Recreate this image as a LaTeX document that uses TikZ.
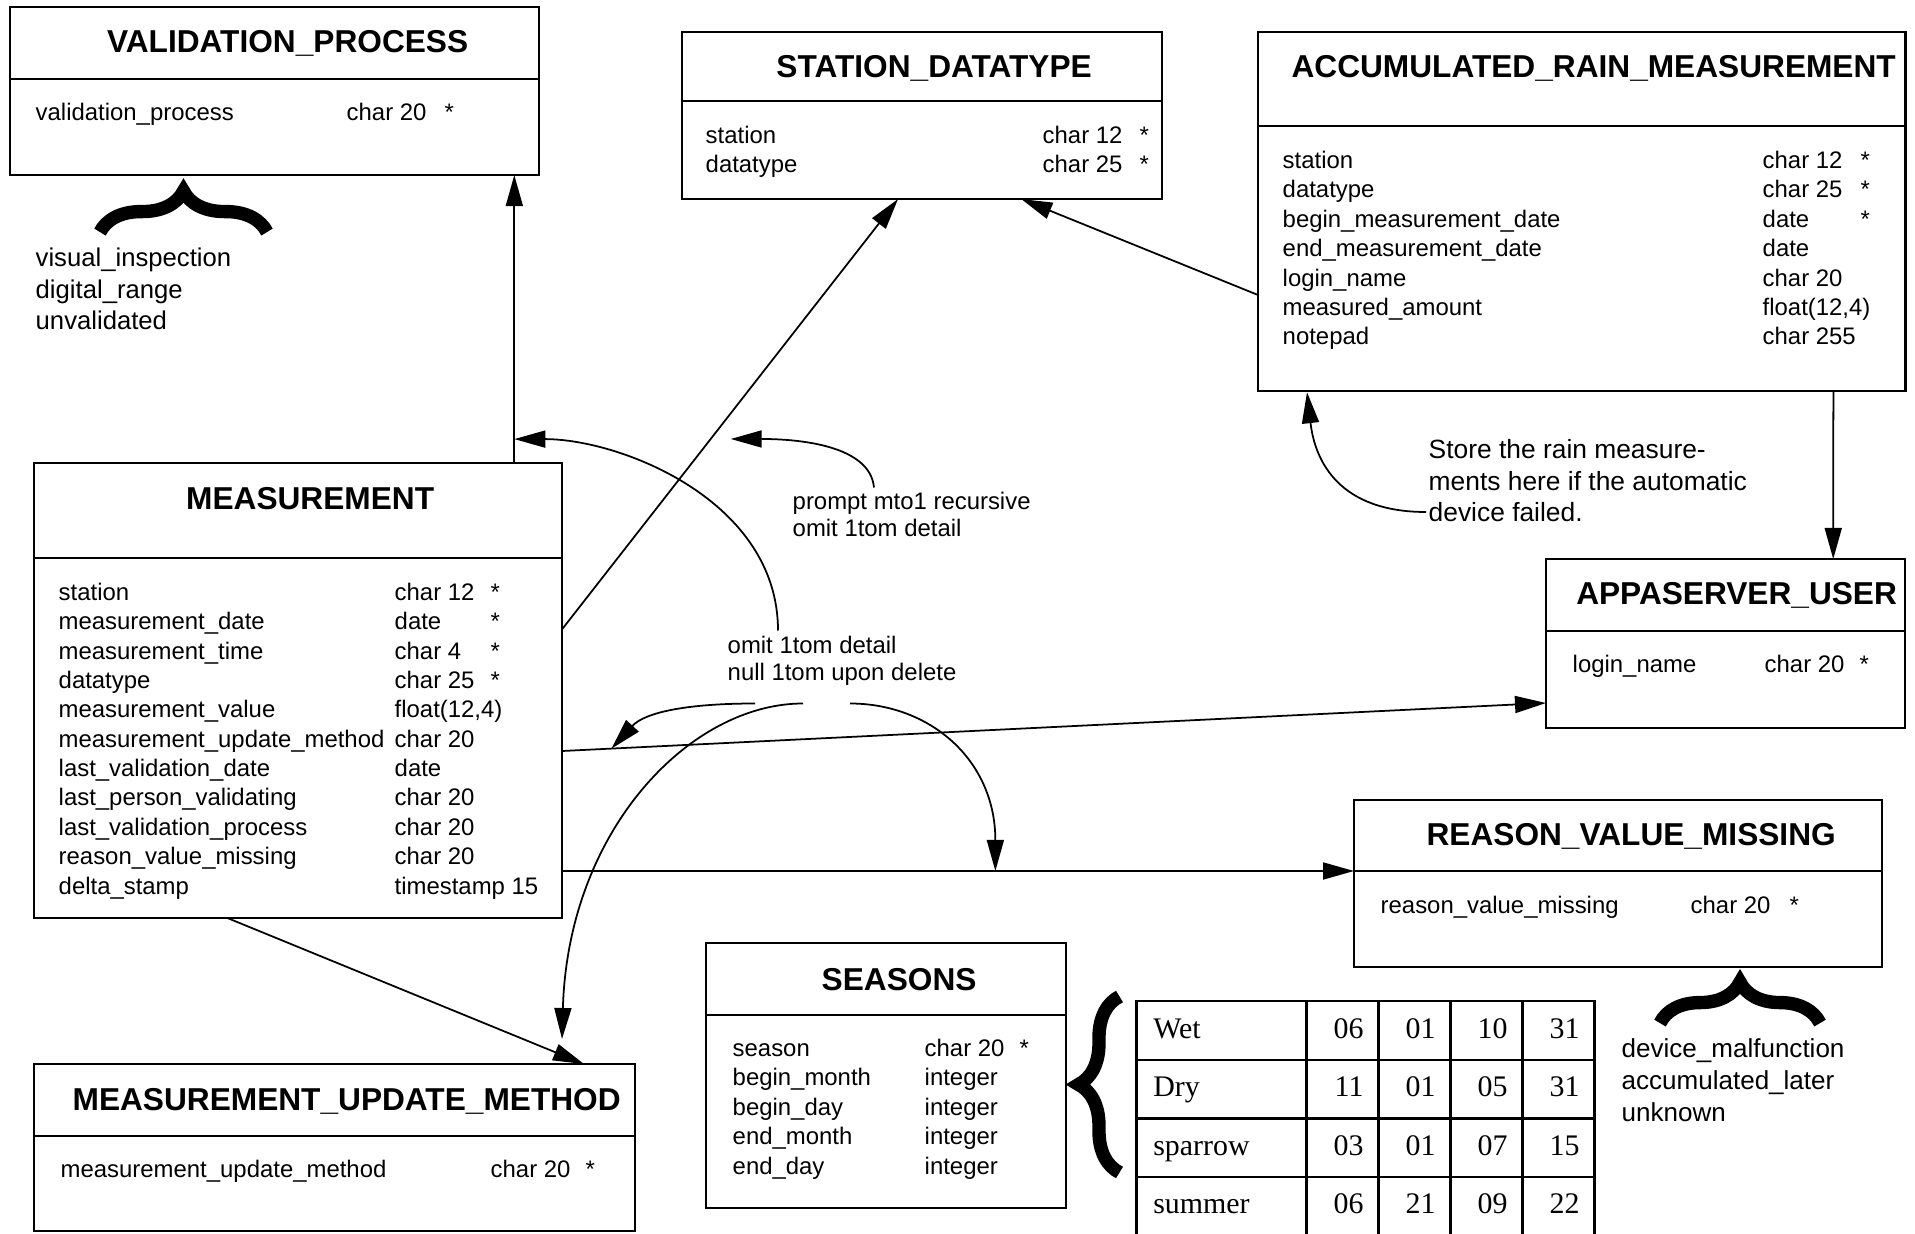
\documentclass[tikz,border=0pt]{standalone}
\usepackage{fontspec}
\setmainfont{Liberation Sans}
\newfontfamily\cellfont{Liberation Serif}
\usetikzlibrary{matrix, positioning, calc, arrows.meta, decorations.pathreplacing}

\tikzset{
    entity/.style={draw, line width=0.65pt, anchor=north west, inner sep=0pt, outer sep=0pt},
    divider/.style={line width=0.65pt},
    etitle/.style={anchor=base, inner sep=0pt, font=\bfseries\fontsize{9}{11}\selectfont},
    field/.style={anchor=base west, inner sep=0pt, font=\fontsize{6.8}{8.3}\selectfont},
    note/.style={anchor=base west, inner sep=0pt, align=left},
    fk/.style={line width=0.5pt, -{Triangle[length=0.31cm, width=0.17cm]}},
    bigbrace/.style={decorate, decoration={brace, amplitude=0.41cm}, line width=3.8pt}
}

\begin{document}
\begin{tikzpicture}[x=0.01cm, y=-0.01cm]

    \useasboundingbox (0,0) rectangle (1915,1234);

    % Tables
    \node[entity, minimum width=5.29cm, minimum height=1.68cm] (vp) at (10,7) {};
    \node[entity, minimum width=4.80cm, minimum height=1.67cm] (sd) at (682,32) {};
    \node[entity, minimum width=6.47cm, minimum height=3.59cm] (arm) at (1258,32) {};
    \node[entity, minimum width=5.28cm, minimum height=4.55cm] (meas) at (34,463) {};
    \node[entity, minimum width=3.59cm, minimum height=1.69cm] (au) at (1546,559) {};
    \node[entity, minimum width=5.28cm, minimum height=1.67cm] (rvm) at (1354,800) {};
    \node[entity, minimum width=6.01cm, minimum height=1.67cm] (mum) at (34,1064) {};
    \node[entity, minimum width=3.60cm, minimum height=2.65cm] (seasons) at (706,943) {};

    % Header lines
    \foreach \ent/\off in {vp/72, sd/69, arm/94, meas/95, au/72, rvm/71, mum/72, seasons/72}
    \draw[divider] ($(\ent.north west)+(0,\off)$) -- ($(\ent.north east)+(0,\off)$);

    % Titles
    \node[etitle] (vp-title) at ($(vp.north)+(13,46)$) {VALIDATION\_PROCESS};
    \node[etitle] (sd-title) at ($(sd.north)+(12,46)$) {STATION\_DATATYPE};
    \node[etitle] (arm-title) at ($(arm.north)+(12,46)$) {ACCUMULATED\_RAIN\_MEASUREMENT};
    \node[etitle] (meas-title) at ($(meas.north)+(12,47)$) {MEASUREMENT};
    \node[etitle] (au-title) at ($(au.north)+(11,46)$) {APPASERVER\_USER};
    \node[etitle] (rvm-title) at ($(rvm.north)+(13,46)$) {REASON\_VALUE\_MISSING};
    \node[etitle] (mum-title) at ($(mum.north)+(12,46)$) {MEASUREMENT\_UPDATE\_METHOD};
    \node[etitle] (seasons-title) at ($(seasons.north)+(13,47)$) {SEASONS};

    % Fields
    \path ($(vp.north west)+(25,113.5)$) node[field] (vp-n0) {validation\_process}
        ++(311,0) node[field] (vp-t0) {char 20}
        ++(98,0) node[field] (vp-k0) {*};

    \foreach \n/\ty/\k [count=\i from 0] in {station/char 12/*, datatype/char 25/*}
    \path ($(sd.north west)+(23,111.5+29.4*\i)$) node[field] (sd-n\i) {\n}
        ++(337,0) node[field] (sd-t\i) {\ty}
        ++(97,0) node[field] (sd-k\i) {\k};

    \foreach \n/\ty/\k [count=\i from 0] in {station/char 12/*, datatype/char 25/*,
        begin\_measurement\_date/date/*, end\_measurement\_date/date/{},
        login\_name/char 20/{}, measured\_amount/{float(12,4)}/{}, notepad/char 255/{}}
    \path ($(arm.north west)+(24,136.5+29.4*\i)$) node[field] (arm-n\i) {\n}
        ++(480,0) node[field] (arm-t\i) {\ty}
        ++(98,0) node[field] (arm-k\i) {\k};

    \foreach \n/\ty/\k [count=\i from 0] in {station/char 12/*, measurement\_date/date/*,
        measurement\_time/char 4/*, datatype/char 25/*, measurement\_value/{float(12,4)}/{},
        measurement\_update\_method/char 20/{}, last\_validation\_date/date/{},
        last\_person\_validating/char 20/{}, last\_validation\_process/char 20/{},
        reason\_value\_missing/char 20/{}, delta\_stamp/timestamp 15/{}}
    \path ($(meas.north west)+(24,137.5+29.35*\i)$) node[field] (meas-n\i) {\n}
        ++(336,0) node[field] (meas-t\i) {\ty}
        ++(96,0) node[field] (meas-k\i) {\k};

    \path ($(au.north west)+(26,113.5)$) node[field] (au-n0) {login\_name}
        ++(192,0) node[field] (au-t0) {char 20}
        ++(95,0) node[field] (au-k0) {*};

    \path ($(rvm.north west)+(26,113)$) node[field] (rvm-n0) {reason\_value\_missing}
        ++(310,0) node[field] (rvm-t0) {char 20}
        ++(99,0) node[field] (rvm-k0) {*};

    \path ($(mum.north west)+(26,113)$) node[field] (mum-n0) {measurement\_update\_method}
        ++(430,0) node[field] (mum-t0) {char 20}
        ++(95,0) node[field] (mum-k0) {*};

    \foreach \n/\ty/\k [count=\i from 0] in {season/char 20/*, begin\_month/integer/{},
        begin\_day/integer/{}, end\_month/integer/{}, end\_day/integer/{}}
    \path ($(seasons.north west)+(26,113+29.5*\i)$) node[field] (seasons-n\i) {\n}
        ++(192,0) node[field] (seasons-t\i) {\ty}
        ++(95,0) node[field] (seasons-k\i) {\k};

    % Season rows
    \matrix (seasontbl) [matrix of nodes, anchor=north west, inner sep=0pt,
        row sep=-0.65pt, column sep=-0.65pt,
        nodes={draw, line width=0.65pt, outer sep=0pt, inner xsep=0.15cm, inner ysep=0pt,
            minimum height=0.585cm, text height=0.2cm, text depth=0.05cm,
            text width=0.42cm, align=right, font=\cellfont\fontsize{8.5}{10}\selectfont},
        column 1/.style={nodes={text width=1.36cm, inner xsep=0.17cm, align=left}}
        ] at (1134.5,999.5)
    {
        Wet & 06 & 01 & 10 & 31 \\
        Dry & 11 & 01 & 05 & 31 \\
        sparrow & 03 & 01 & 07 & 15 \\
        summer & 06 & 21 & 09 & 22 \\
    };

    % Value lists
    \draw[bigbrace] ($(vp.south west)+(90,57)$) -- ($(vp.south west)+(257,57)$);
    \node[note, font=\fontsize{7.3}{9}\selectfont] (vp-values) at (35,330)
        {visual\_inspection\\digital\_range\\unvalidated};
    \draw[bigbrace] ($(rvm.south west)+(306,56)$) -- ($(rvm.south west)+(466,56)$);
    \node[note, font=\fontsize{7.4}{9}\selectfont] (rvm-values) at (1621,1121)
        {device\_malfunction\\accumulated\_later\\unknown};
    \draw[bigbrace] ($(seasontbl.north west)+(-15,173)$) -- ($(seasontbl.north west)+(-15,-3)$);

    % Foreign keys
    \draw[fk] ($(meas.north east)+(-48,0)$) -- coordinate[pos=0.083] (mvp-a) ($(vp.south east)+(-25,0)$);
    \draw[fk] ($(meas.north east)+(0,166)$) -- coordinate[pos=0.442] (msd-a) ($(sd.south west)+(216,0)$);
    \draw[fk] ($(arm.north west)+(0,263)$) -- ($(sd.south east)+(-141,0)$);
    \draw[fk] ($(arm.south east)+(-72,0)$) -- ($(au.north east)+(-72,0)$);
    \draw[fk] ($(meas.north east)+(0,288)$) -- coordinate[pos=0.05] (mau-a) ($(au.north west)+(0,144)$);
    \draw[fk] ($(meas.north east)+(0,408)$) -- coordinate[pos=0.547] (mrv-a) ($(rvm.north west)+(0,71)$);
    \draw[fk] ($(meas.south west)+(194,0)$) -- ($(mum.north west)+(550,0)$);

    % Notes
    \node[note, font=\fontsize{6.8}{7.65}\selectfont] (note-prompt) at (792,536.5)
        {prompt mto1 recursive\\ omit 1tom detail};
    \node[note, font=\fontsize{6.8}{7.65}\selectfont] (note-omit) at (727,680.5)
        {omit 1tom detail\\null 1tom upon delete};
    \node[note, font=\fontsize{7.5}{9}\selectfont] (note-store) at (1428,522)
        {Store the rain measure-\\ments here if the automatic\\device failed.};

    \coordinate (prompt-tip) at ($(msd-a)+(20,0)$);
    \coordinate (mum-tip) at ($(mum.north west)+(528,-25)$);
    \coordinate (store-tip) at ($(arm.south west)+(49,1)$);

    \draw[fk] ($(note-prompt.base west)+(82,-49)$) .. controls +(-4,-42) and +(69,0) .. (prompt-tip);
    \draw[fk] ($(note-omit.base west)+(51,-50)$) .. controls +(0,-130) and +(106,0) .. (mvp-a);
    \draw[fk] ($(note-omit.base west)+(28,23)$) .. controls +(-65,0) and +(34,-37) .. (mau-a);
    \draw[fk] ($(note-omit.base west)+(76,23)$) .. controls +(-113,0) and +(6,-209) .. (mum-tip);
    \draw[fk] ($(note-omit.base west)+(123,23)$) .. controls +(80,0) and +(0,-111) .. (mrv-a);
    \draw[fk] ($(note-store.base west)+(-2,-10)$) .. controls +(-86,0) and +(8,70) .. (store-tip);

\end{tikzpicture}
\end{document}
